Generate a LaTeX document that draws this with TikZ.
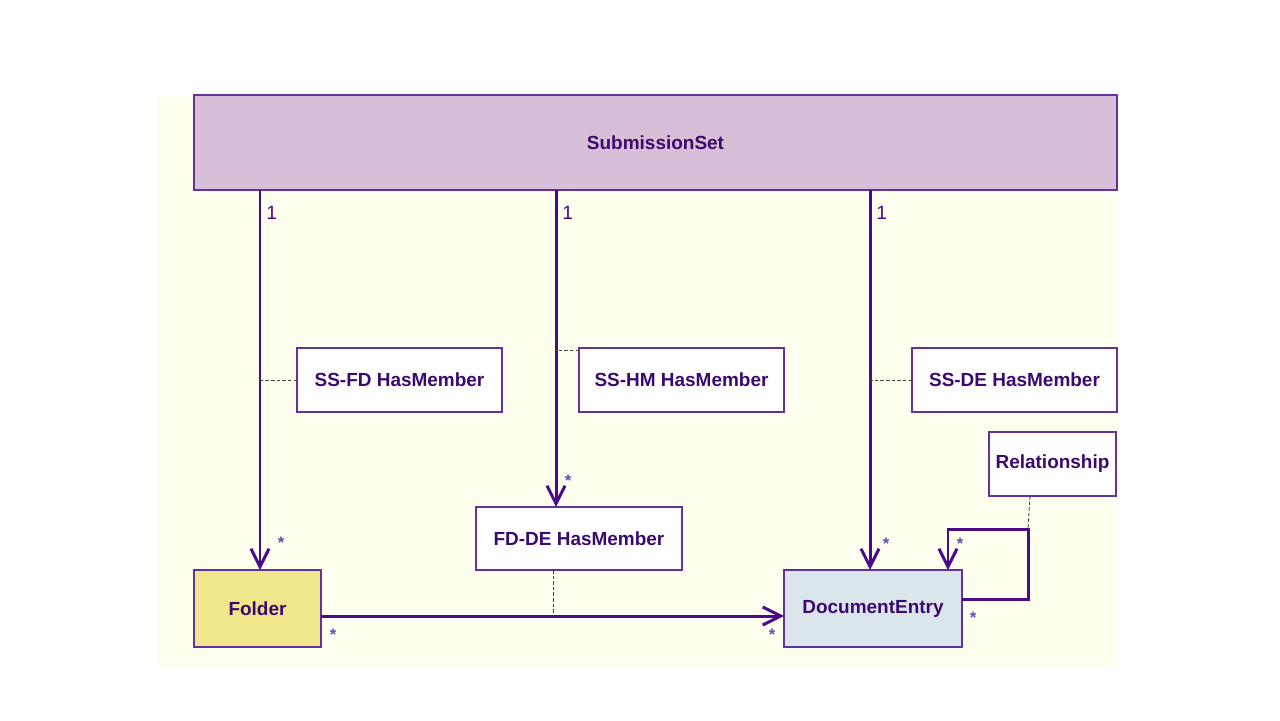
\documentclass[tikz,border=0pt]{standalone}
\usepackage{fontspec}
\setmainfont{Liberation Sans}
\usetikzlibrary{arrows.meta}
\definecolor{umlline}{RGB}{75,10,135}
\definecolor{umlbox}{RGB}{100,50,160}
\definecolor{umltext}{RGB}{60,10,110}
\definecolor{umlstar}{RGB}{105,75,175}
\definecolor{umlnote}{RGB}{70,70,50}
\definecolor{canvas}{RGB}{255,255,240}
\definecolor{ssfill}{RGB}{216,191,216}
\definecolor{fdfill}{RGB}{240,230,140}
\definecolor{defill}{RGB}{218,230,235}

\begin{document}
\begin{tikzpicture}[x=0.02cm, y=-0.02cm,
cls/.style={draw=umlbox, line width=1.1pt, fill=white, text=umltext, font=\bfseries\fontsize{10.8}{12}\selectfont, inner sep=0pt, outer sep=0pt},
assoc/.style={draw=umlline, line width=1.7pt, -{Straight Barb[length=0.36cm,width=0.36cm]}},
note/.style={draw=umlnote, line width=0.5pt, dash pattern=on 2pt off 1.2pt},
mult/.style={text=umlline, font=\fontsize{11}{12}\selectfont, inner sep=0pt},
many/.style={text=umlstar, font=\bfseries\fontsize{9.5}{10}\selectfont, inner sep=0pt}]
\useasboundingbox (0,0) rectangle (1280,720);
\fill[canvas] (157,95) rectangle (1118,667);

\node[cls, fill=ssfill, minimum width=18.46cm, minimum height=1.9cm] (ss) at (655.5,142.5) {SubmissionSet};
\node[cls, minimum width=4.1cm, minimum height=1.28cm] (ssfd) at (399.5,380) {SS-FD HasMember};
\node[cls, minimum width=4.1cm, minimum height=1.28cm] (sshm) at (681.5,380) {SS-HM HasMember};
\node[cls, minimum width=4.1cm, minimum height=1.28cm] (ssde) at (1014.5,380) {SS-DE HasMember};
\node[cls, minimum width=2.54cm, minimum height=1.28cm] (rel) at (1052.5,464) {Relationship};
\node[cls, minimum width=4.12cm, minimum height=1.26cm] (fdde) at (579,538.5) {FD-DE HasMember};
\node[cls, fill=fdfill, minimum width=2.54cm, minimum height=1.54cm] (folder) at (257.5,608.5) {Folder};
\node[cls, fill=defill, minimum width=3.56cm, minimum height=1.54cm] (de) at (873,608.5) {DocumentEntry};

\coordinate (fdtop) at ([xshift=0.05cm]folder.north);
\coordinate (hmtop) at ([xshift=-0.46cm]fdde.north);
\coordinate (detop) at ([xshift=-0.06cm]de.north);
\coordinate (fdout) at ([yshift=-0.15cm]folder.east);
\coordinate (dein) at ([yshift=-0.15cm]de.west);
\coordinate (deout) at ([yshift=0.19cm]de.east);
\coordinate (loop) at (1028,529);
\coordinate (selftop) at ([xshift=1.5cm]de.north);
\coordinate (fdfoot) at ([xshift=-0.52cm]fdde.south);
\coordinate (relfoot) at ([xshift=-0.45cm]rel.south);
\coordinate (hmjoin) at ([yshift=-0.04cm]sshm.north west);

\draw[assoc] (ss.south -| fdtop) -- (fdtop);
\draw[assoc] (ss.south -| hmtop) -- (hmtop);
\draw[assoc] (ss.south -| detop) -- (detop);
\draw[assoc] (fdout) -- (dein);
\draw[assoc] (deout) -| (loop) -| (selftop);

\draw[note] (ssfd.west) -- (ssfd.west -| fdtop);
\draw[note] (hmjoin) -- (hmjoin -| hmtop);
\draw[note] (ssde.west) -- (ssde.west -| detop);
\draw[note] (relfoot) -- (loop);
\draw[note] (fdfoot) -- (fdfoot |- fdout);

\node[mult, anchor=west] (m1) at (266,213) {1};
\node[mult, anchor=west] (m2) at (562,213) {1};
\node[mult, anchor=west] (m3) at (876,213) {1};

\node[many] (s1) at (281,543) {*};
\node[many] (s2) at (568,481) {*};
\node[many] (s3) at (886,544) {*};
\node[many] (s4) at (960,544) {*};
\node[many] (s5) at (333,635) {*};
\node[many] (s6) at (772,635) {*};
\node[many] (s7) at (973,618) {*};
\end{tikzpicture}
\end{document}
